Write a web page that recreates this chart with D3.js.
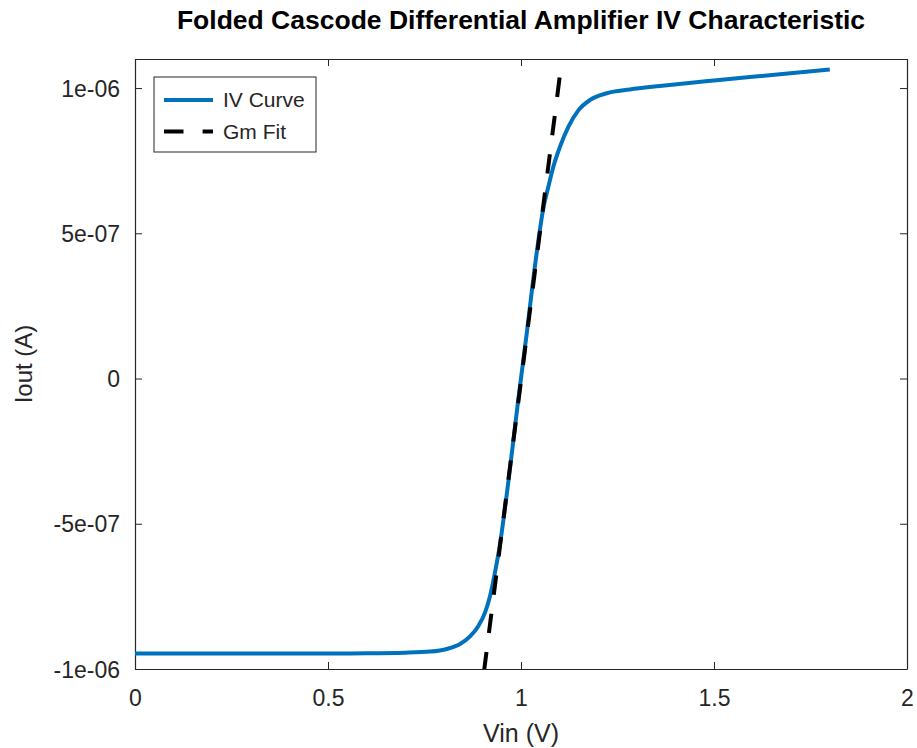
<!DOCTYPE html>
<html>
<head>
<meta charset="utf-8">
<script src="https://cdn.jsdelivr.net/npm/d3@7"></script>
<style>
  body { margin: 0; background: #fff; }
  text { font-family: "Liberation Sans", Arial, sans-serif; fill: #262626; }
</style>
</head>
<body>
<script>
const WIDTH = 917;
const HEIGHT = 748;
const MARGIN = {top: 59, right: 10, bottom: 79, left: 135};
const INNER_WIDTH = WIDTH - MARGIN.left - MARGIN.right;
const INNER_HEIGHT = HEIGHT - MARGIN.top - MARGIN.bottom;

// IV curve
var vin = [0, 0.2, 0.4, 0.6, 0.7, 0.765, 0.808, 0.842, 0.868, 0.890, 0.907, 0.920, 0.933,
  0.945, 0.967, 0.993, 1.015, 1.036, 1.058, 1.071, 1.084, 1.101, 1.123, 1.149, 1.179,
  1.222, 1.282, 1.36, 1.5, 1.65, 1.8];
var iout = [-9.47e-7, -9.47e-7, -9.47e-7, -9.46e-7, -9.44e-7, -9.40e-7, -9.31e-7, -9.14e-7,
  -8.88e-7, -8.51e-7, -8.05e-7, -7.48e-7, -6.65e-7, -5.75e-7, -3.58e-7, -7.2e-8, 1.57e-7,
  3.86e-7, 5.87e-7, 6.61e-7, 7.30e-7, 7.98e-7, 8.67e-7, 9.24e-7, 9.59e-7, 9.82e-7, 9.95e-7,
  1.007e-6, 1.026e-6, 1.045e-6, 1.064e-6];

// Gm fit line (drawn top to bottom)
var vinFit = [1.1, 0.9];
var ioutFit = [1.036e-6, -1.052e-6];

var xTicks = [0, 0.5, 1, 1.5, 2];
var xTickLabels = ["0", "0.5", "1", "1.5", "2"];
var yTicks = [-1e-6, -5e-7, 0, 5e-7, 1e-6];
var yTickLabels = ["-1e-06", "-5e-07", "0", "5e-07", "1e-06"];

var legendNames = ["IV Curve", "Gm Fit"];

var translate = function(x, y){
  return "translate(" + x + "," + y + ")";
};

var xScale = d3.scaleLinear()
  .domain([0, 2])
  .range([0, INNER_WIDTH]);

var yScale = d3.scaleLinear()
  .domain([-1e-6, 1.1e-6])
  .range([INNER_HEIGHT, 0]);

var svg = d3.select('body')
  .append('svg')
  .attr('width', WIDTH)
  .attr('height', HEIGHT);

svg.append('defs').append('clipPath')
  .attr('id', 'plotClip')
  .append('rect')
  .attr('width', INNER_WIDTH)
  .attr('height', INNER_HEIGHT);

var g = svg.append('g').attr('transform', translate(MARGIN.left, MARGIN.top));

// axes, ticks pointing in, mirrored on top and right
var tickFmt = function(labels, ticks){
  return function(d){ return labels[ticks.indexOf(d)]; };
};

var xAxis = g.append('g')
  .attr('transform', translate(0, INNER_HEIGHT))
  .call(d3.axisBottom(xScale).tickValues(xTicks).tickFormat(tickFmt(xTickLabels, xTicks))
    .tickSizeInner(-7).tickSizeOuter(0));
var yAxis = g.append('g')
  .call(d3.axisLeft(yScale).tickValues(yTicks).tickFormat(tickFmt(yTickLabels, yTicks))
    .tickSizeInner(-7).tickSizeOuter(0).tickPadding(15));
var xTop = g.append('g')
  .call(d3.axisTop(xScale).tickValues(xTicks).tickFormat('').tickSizeInner(-7).tickSizeOuter(0));
var yRight = g.append('g')
  .attr('transform', translate(INNER_WIDTH, 0))
  .call(d3.axisRight(yScale).tickValues(yTicks).tickFormat('').tickSizeInner(-7).tickSizeOuter(0));

[xAxis, yAxis, xTop, yRight].forEach(function(a){
  a.selectAll('path').attr('stroke', '#262626').attr('stroke-width', 1.2);
  a.selectAll('line').attr('stroke', '#262626').attr('stroke-width', 1);
  a.selectAll('text').attr('font-size', 23).attr('fill', '#262626')
    .style('font-family', '"Liberation Sans", Arial, sans-serif');
});
xAxis.selectAll('text').attr('dy', null).attr('y', 37);
yAxis.selectAll('text').attr('dy', '0.35em');

// lines
var plot = g.append('g').attr('clip-path', 'url(#plotClip)');

var ivLine = d3.line()
  .x(function(d){ return xScale(d[0]); })
  .y(function(d){ return yScale(d[1]); })
  .curve(d3.curveMonotoneX);

var fitLine = d3.line()
  .x(function(d){ return xScale(d[0]); })
  .y(function(d){ return yScale(d[1]); });

plot.append('path')
  .attr('d', ivLine(d3.zip(vin, iout)))
  .attr('fill', 'none')
  .attr('stroke', '#0072BD')
  .attr('stroke-width', 4);

plot.append('path')
  .attr('d', fitLine(d3.zip(vinFit, ioutFit)))
  .attr('fill', 'none')
  .attr('stroke', '#000')
  .attr('stroke-width', 4)
  .attr('stroke-dasharray', '19.5,19.1');

// legend
var legend = g.append('g').attr('transform', translate(19, 18));
legend.append('rect')
  .attr('width', 162)
  .attr('height', 75)
  .attr('fill', '#fff')
  .attr('stroke', '#262626')
  .attr('stroke-width', 1);

legend.selectAll('.entry')
  .data(legendNames)
  .enter()
  .append('g')
  .attr('transform', function(d, i){ return translate(0, 23 + i * 31.5); })
  .each(function(d, i){
    var e = d3.select(this);
    e.append('line')
      .attr('x1', 10).attr('x2', 59)
      .attr('stroke', i === 0 ? '#0072BD' : '#000')
      .attr('stroke-width', 4)
      .attr('stroke-dasharray', i === 0 ? null : '19.5,19.1');
    e.append('text')
      .attr('x', 69)
      .attr('dy', '0.35em')
      .attr('font-size', 21)
      .text(d);
  });

// titles
svg.append('text')
  .attr('x', MARGIN.left + INNER_WIDTH / 2)
  .attr('y', 29)
  .attr('text-anchor', 'middle')
  .attr('font-size', 26.5)
  .attr('font-weight', 'bold')
  .style('fill', '#000')
  .text('Folded Cascode Differential Amplifier IV Characteristic');

svg.append('text')
  .attr('x', MARGIN.left + INNER_WIDTH / 2)
  .attr('y', 742)
  .attr('text-anchor', 'middle')
  .attr('font-size', 25)
  .text('Vin (V)');

svg.append('text')
  .attr('transform', translate(32, MARGIN.top + INNER_HEIGHT / 2) + ' rotate(-90)')
  .attr('text-anchor', 'middle')
  .attr('font-size', 24)
  .text('Iout (A)');
</script>
</body>
</html>
